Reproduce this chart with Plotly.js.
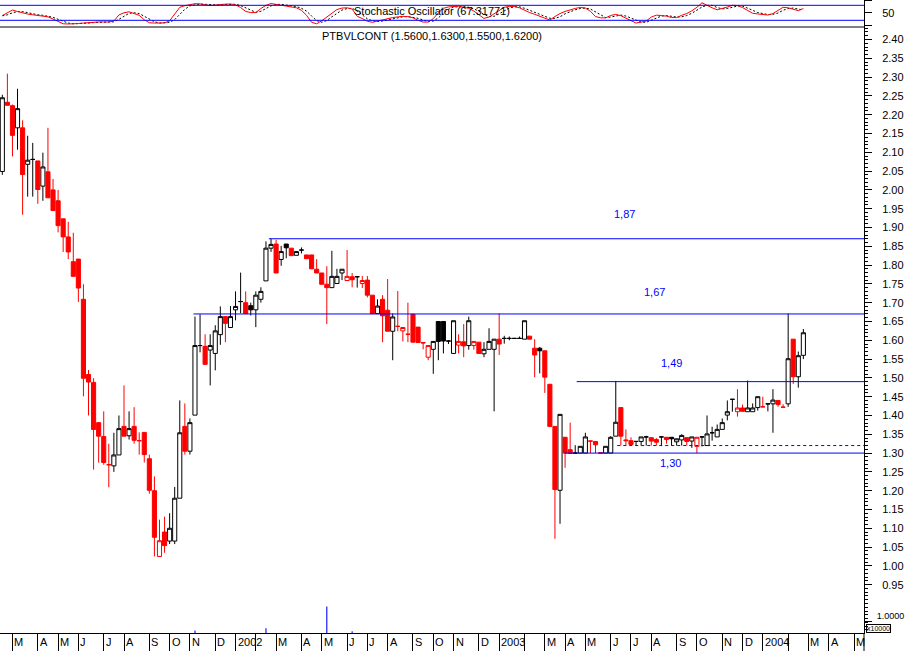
<!DOCTYPE html>
<html><head><meta charset="utf-8">
<script src="https://cdn.plot.ly/plotly-3.0.1.min.js"></script>
<style>html,body{margin:0;padding:0;background:#fff;}#chart{width:910px;height:651px;}</style>
</head><body><div id="chart"></div>
<script>
// weekly bar dates (Fridays)
const weeks = [
'2001-02-16','2001-02-23','2001-03-02','2001-03-09','2001-03-16','2001-03-23','2001-03-30','2001-04-06','2001-04-13','2001-04-20',
'2001-04-27','2001-05-04','2001-05-11','2001-05-18','2001-05-25','2001-06-01','2001-06-08','2001-06-15','2001-06-22','2001-06-29',
'2001-07-06','2001-07-13','2001-07-20','2001-07-27','2001-08-03','2001-08-10','2001-08-17','2001-08-24','2001-08-31','2001-09-07',
'2001-09-14','2001-09-21','2001-09-28','2001-10-05','2001-10-12','2001-10-19','2001-10-26','2001-11-02','2001-11-09','2001-11-16',
'2001-11-23','2001-11-30','2001-12-07','2001-12-14','2001-12-21','2001-12-28',
'2002-01-04','2002-01-11','2002-01-18','2002-01-25','2002-02-01','2002-02-08','2002-02-15','2002-02-22','2002-03-01','2002-03-08',
'2002-03-15','2002-03-22','2002-03-29','2002-04-05','2002-04-12','2002-04-19','2002-04-26','2002-05-03','2002-05-10','2002-05-17',
'2002-05-24','2002-05-31','2002-06-07','2002-06-14','2002-06-21','2002-06-28','2002-07-05','2002-07-12','2002-07-19','2002-07-26',
'2002-08-02','2002-08-09','2002-08-16','2002-08-23','2002-08-30','2002-09-06','2002-09-13','2002-09-20','2002-09-27','2002-10-04',
'2002-10-11','2002-10-18','2002-10-25','2002-11-01','2002-11-08','2002-11-15','2002-11-22','2002-11-29','2002-12-06','2002-12-13',
'2002-12-20','2002-12-27',
'2003-01-03','2003-01-10','2003-01-17','2003-01-24','2003-01-31','2003-02-07','2003-02-14','2003-02-21','2003-02-28','2003-03-07',
'2003-03-14','2003-03-21','2003-03-28','2003-04-04','2003-04-11','2003-04-18','2003-04-25','2003-05-02','2003-05-09','2003-05-16',
'2003-05-23','2003-05-30','2003-06-06','2003-06-13','2003-06-20','2003-06-27','2003-07-04','2003-07-11','2003-07-18','2003-07-25',
'2003-08-01','2003-08-08','2003-08-15','2003-08-22','2003-08-29','2003-09-05','2003-09-12','2003-09-19','2003-09-26','2003-10-03',
'2003-10-10','2003-10-17','2003-10-24','2003-10-31','2003-11-07','2003-11-14','2003-11-21','2003-11-28','2003-12-05','2003-12-12',
'2003-12-19','2003-12-26',
'2004-01-02','2004-01-09','2004-01-16','2004-01-23','2004-01-30','2004-02-06','2004-02-13','2004-02-20','2004-02-27'];

const openP = [
2.049,2.233,2.224,2.165,2.165,2.068,2.081,2.077,2.010,2.048,
2.000,1.971,1.923,1.875,1.809,1.816,1.709,1.509,1.488,1.381,
1.344,1.269,1.266,1.295,1.371,1.346,1.371,1.333,1.355,1.285,
1.200,1.025,1.090,1.066,1.066,1.180,1.371,1.305,1.401,1.586,
1.584,1.574,1.565,1.615,1.663,1.634,
1.681,1.703,1.700,1.692,1.681,1.709,1.758,1.845,1.856,1.815,
1.856,1.845,1.826,1.840,1.827,1.827,1.789,1.779,1.749,1.740,
1.751,1.779,1.759,1.769,1.769,1.751,1.760,1.720,1.671,1.709,
1.680,1.624,1.637,1.625,1.616,1.669,1.635,1.594,1.555,1.576,
1.650,1.650,1.598,1.565,1.587,1.596,1.586,1.586,1.595,1.564,
1.576,1.576,
1.603,1.605,1.605,1.605,1.605,1.603,1.611,1.579,1.579,1.572,
1.483,1.371,1.201,1.342,1.309,1.300,1.300,1.300,1.332,1.331,
1.301,1.300,1.300,1.345,1.421,1.335,1.333,1.331,1.331,1.343,
1.341,1.336,1.343,1.342,1.342,1.330,1.335,1.341,1.332,1.318,
1.343,1.320,1.354,1.343,1.363,1.401,1.443,1.410,1.420,1.410,
1.410,1.421,
1.423,1.431,1.431,1.440,1.422,1.431,1.603,1.503,1.560];

const highP = [
2.253,2.309,2.227,2.269,2.185,2.144,2.125,2.077,2.099,2.165,
2.029,2.000,1.923,1.915,1.886,1.816,1.749,1.521,1.499,1.381,
1.411,1.325,1.354,1.400,1.480,1.411,1.422,1.355,1.355,1.296,
1.238,1.123,1.131,1.140,1.210,1.440,1.432,1.392,1.663,1.669,
1.616,1.616,1.640,1.690,1.663,1.691,
1.730,1.780,1.730,1.700,1.730,1.741,1.863,1.870,1.867,1.851,
1.856,1.845,1.836,1.847,1.827,1.827,1.816,1.779,1.797,1.838,
1.790,1.789,1.840,1.779,1.769,1.771,1.771,1.720,1.709,1.720,
1.763,1.671,1.731,1.634,1.700,1.669,1.635,1.594,1.586,1.597,
1.650,1.650,1.600,1.652,1.616,1.643,1.663,1.597,1.595,1.595,
1.632,1.603,
1.671,1.612,1.610,1.605,1.610,1.652,1.611,1.603,1.582,1.572,
1.483,1.371,1.403,1.342,1.381,1.321,1.318,1.354,1.332,1.331,
1.302,1.318,1.345,1.492,1.421,1.363,1.342,1.331,1.343,1.346,
1.341,1.340,1.343,1.342,1.342,1.338,1.350,1.341,1.343,1.343,
1.343,1.400,1.370,1.376,1.392,1.440,1.443,1.470,1.429,1.493,
1.432,1.450,
1.450,1.431,1.470,1.440,1.430,1.671,1.603,1.570,1.630];

const lowP = [
2.040,2.225,2.089,2.107,1.934,1.982,1.982,1.963,1.971,1.979,
1.945,1.887,1.835,1.816,1.770,1.702,1.451,1.400,1.256,1.275,
1.269,1.209,1.250,1.295,1.345,1.336,1.325,1.296,1.275,1.192,
1.025,1.025,1.035,1.058,1.058,1.180,1.296,1.296,1.401,1.568,
1.536,1.480,1.520,1.588,1.595,1.634,
1.653,1.672,1.671,1.666,1.635,1.700,1.758,1.835,1.779,1.798,
1.818,1.825,1.826,1.831,1.817,1.790,1.779,1.749,1.643,1.740,
1.751,1.760,1.759,1.741,1.740,1.739,1.714,1.671,1.671,1.595,
1.624,1.547,1.624,1.597,1.595,1.595,1.594,1.576,1.547,1.511,
1.547,1.565,1.590,1.565,1.565,1.555,1.575,1.575,1.565,1.555,
1.576,1.411,
1.561,1.591,1.600,1.605,1.605,1.603,1.603,1.502,1.512,1.460,
1.371,1.072,1.112,1.261,1.299,1.298,1.300,1.300,1.300,1.300,
1.300,1.300,1.300,1.345,1.320,1.320,1.320,1.320,1.320,1.320,
1.320,1.320,1.320,1.325,1.320,1.320,1.320,1.320,1.314,1.300,
1.318,1.320,1.333,1.343,1.363,1.387,1.410,1.397,1.411,1.410,
1.410,1.413,
1.423,1.411,1.354,1.423,1.422,1.423,1.484,1.474,1.550];

const closeP = [
2.245,2.225,2.145,2.216,2.041,2.079,2.081,2.001,2.061,1.979,
1.945,1.905,1.875,1.835,1.770,1.739,1.499,1.489,1.363,1.345,
1.275,1.269,1.295,1.365,1.345,1.365,1.334,1.333,1.296,1.201,
1.076,1.067,1.054,1.100,1.180,1.354,1.305,1.381,1.586,1.586,
1.536,1.586,1.625,1.663,1.645,1.663,
1.690,1.703,1.671,1.681,1.720,1.730,1.845,1.855,1.779,1.836,
1.846,1.825,1.836,1.840,1.817,1.790,1.779,1.749,1.740,1.770,
1.770,1.789,1.770,1.761,1.769,1.759,1.720,1.671,1.691,1.665,
1.624,1.662,1.637,1.634,1.616,1.595,1.594,1.593,1.586,1.597,
1.597,1.598,1.598,1.652,1.597,1.585,1.652,1.597,1.565,1.576,
1.597,1.603,
1.590,1.605,1.605,1.605,1.605,1.652,1.603,1.561,1.572,1.502,
1.371,1.203,1.403,1.300,1.299,1.300,1.318,1.343,1.332,1.322,
1.300,1.318,1.342,1.382,1.345,1.333,1.323,1.331,1.343,1.343,
1.332,1.329,1.343,1.336,1.338,1.338,1.347,1.331,1.343,1.342,
1.343,1.351,1.354,1.363,1.381,1.410,1.443,1.420,1.411,1.420,
1.420,1.450,
1.423,1.431,1.441,1.429,1.422,1.551,1.503,1.559,1.620];

// stochastic oscillator (%K red, %D black dashed), read per bar
const stochK = [
39,50,61,55,48.5,45,42,40,38.5,34,25,14.5,6,5.3,5.3,7,9,11,12.2,13.3,
13.3,13.3,17,41.6,50,54,47,40,22,10.3,9,8,9.5,18,43,72,78.5,82,86.5,85.5,
81.5,79,81,84,84.6,85.2,82,71,55.5,51,51,67,80,87,83.5,81,79,75,70,60,
40,12,6,18,34,50,63,69,70,65,36,27,16,12,17,21.8,27,31,33.5,36,
34.5,30,20,12.8,13,26.5,50,68,73.5,76.5,76.5,72,68,57,44,27.5,33,46,60,72,
75.5,75.5,70,60,51,44,37,27.5,21,35,47,55.5,62,67.5,71.5,69,56,35,30,29.5,
39.5,43.5,38.5,30,18.7,9,11.5,17,33,40.5,39,36.5,31,31,40,47,58,72,90,79.5,
70,62,66.5,73,80,79,71,59.5,48,45.5,43.5,41,47,60,72,70,64,58.5,67.3];
const stochD = [
38,42,50,55,55,50,45,42,40,37,32,24,15,9,6,6,7,9,11,12,
13,13,14,24,36,48,50,47,36,24,14,9,9,12,23,44,64,78,82,85,
84,82,80,81,83,85,84,79,69,59,52,56,66,78,83,84,81,78,75,68,
57,37,19,12,19,34,49,61,67,68,57,43,26,18,15,17,22,27,31,34,
35,33,28,21,15,17,30,48,64,73,75,75,72,66,56,43,35,36,46,59,
69,74,74,68,60,52,44,36,28,28,34,46,55,62,67,69,65,53,40,31,
33,38,41,37,29,19,13,12,20,30,37,39,36,33,34,39,48,59,73,80,
80,71,66,67,73,77,77,70,60,51,46,43,44,49,60,67,69,64,61];

// axis ticks
const monthTicks = ['2001-03-02','2001-04-06','2001-05-04','2001-06-01','2001-07-06','2001-08-03','2001-09-07','2001-10-05','2001-11-02','2001-12-07',
'2002-01-04','2002-02-01','2002-03-01','2002-04-05','2002-05-03','2002-06-07','2002-07-05','2002-08-02','2002-09-06','2002-10-04','2002-11-01','2002-12-06',
'2003-01-03','2003-02-07','2003-03-07','2003-04-04','2003-05-02','2003-06-06','2003-07-04','2003-08-01','2003-09-05','2003-10-03','2003-11-07','2003-12-05',
'2004-01-02','2004-02-06','2004-03-05','2004-04-02','2004-05-07'];
const monthLabels = ['M','A','M','J','J','A','S','O','N','D',
'2002','','M','A','M','J','J','A','S','O','N','D',
'2003','','M','A','M','J','J','A','S','O','N','D',
'2004','','M','A','M'];
const priceTicks = [0.95,1.00,1.05,1.10,1.15,1.20,1.25,1.30,1.35,1.40,1.45,1.50,1.55,1.60,1.65,1.70,1.75,1.80,1.85,1.90,1.95,2.00,2.05,2.10,2.15,2.20,2.25,2.30,2.35,2.40];

// volume (x10000)
const volDates = ['2001-11-09','2002-02-15','2002-05-10','2002-06-14'];
const volValues = [0.2,0.4,2.2,0.15];

// horizontal levels
const levels = [1.87,1.67,1.49,1.30];
const levelLabels = ['1,87','1,67','1,49','1,30'];
const levelStarts = ['2002-02-19','2001-11-07','2003-04-20','2003-04-03'];
const supportDashed = 1.32;
const supportDashedStart = '2003-06-15';

const xStart = '2001-02-12 19:00', xEnd = '2004-05-20 17:00';
const FONT = 'Liberation Sans, Arial, sans-serif';
const RED = '#FF0000', BLACK = '#000000', BLUE = '#0000FF';

// split bars into colour classes (MetaStock style)
const groups = {
  bh:{col:BLACK,fill:'#FFFFFF'}, bf:{col:BLACK,fill:BLACK},
  rh:{col:RED,fill:'#FFFFFF'}, rf:{col:RED,fill:RED}
};
Object.values(groups).forEach(g=>{g.x=[];g.o=[];g.h=[];g.l=[];g.c=[];});
for (let i=0;i<weeks.length;i++){
  const prev = i>0 ? closeP[i-1] : openP[i];
  const colour = closeP[i] >= prev ? 'b' : 'r';
  const fill = closeP[i] < openP[i] ? 'f' : 'h';
  const g = groups[colour+fill];
  g.x.push(weeks[i]); g.o.push(openP[i]); g.h.push(highP[i]); g.l.push(lowP[i]); g.c.push(closeP[i]);
}
const traces = [];
Object.values(groups).forEach(g=>{
  const st = {line:{color:g.col,width:1},fillcolor:g.fill};
  traces.push({type:'candlestick',x:g.x,open:g.o,high:g.h,low:g.l,close:g.c,
    increasing:st,decreasing:st,whiskerwidth:0,xaxis:'x',yaxis:'y',showlegend:false,hoverinfo:'skip'});
});
traces.push({type:'scatter',mode:'lines',x:weeks,y:stochD,xaxis:'x',yaxis:'y2',
  line:{color:BLACK,width:1,dash:'2px,2px'},showlegend:false,hoverinfo:'skip'});
traces.push({type:'scatter',mode:'lines',x:weeks,y:stochK,xaxis:'x',yaxis:'y2',
  line:{color:RED,width:1},showlegend:false,hoverinfo:'skip'});
traces.push({type:'bar',x:volDates,y:volValues,xaxis:'x',yaxis:'y3',
  marker:{color:BLUE},width:1.5*86400000,showlegend:false,hoverinfo:'skip'});

const plotH = 633, topPanel = 27;
const mainTop = (plotH-topPanel)/plotH;

const shapes = [];
levels.forEach((v,i)=>shapes.push({type:'line',xref:'x',yref:'y',x0:levelStarts[i],x1:xEnd,y0:v,y1:v,line:{color:BLUE,width:1}}));
shapes.push({type:'line',xref:'x',yref:'y',x0:supportDashedStart,x1:xEnd,y0:supportDashed,y1:supportDashed,line:{color:BLUE,width:1,dash:'3px,3px'}});
[80,20].forEach(v=>shapes.push({type:'line',xref:'paper',yref:'y2',x0:0,x1:1,y0:v,y1:v,line:{color:BLUE,width:1}}));
shapes.push({type:'line',xref:'paper',yref:'paper',x0:0,x1:1,y0:mainTop,y1:mainTop,line:{color:BLACK,width:1}});
shapes.push({type:'line',xref:'paper',yref:'paper',x0:1,x1:1,y0:-18/plotH,y1:0,line:{color:BLACK,width:1}});

const annotations = [
  {xref:'paper',yref:'paper',x:0.5,y:(plotH-36)/plotH,text:'PTBVLCONT (1.5600,1.6300,1.5500,1.6200)',showarrow:false,font:{family:FONT,size:11,color:BLACK},xanchor:'center',yanchor:'middle'},
  {xref:'paper',yref:'paper',x:0.5,y:(plotH-10.5)/plotH,text:'Stochastic Oscillator (67.31771)',showarrow:false,font:{family:FONT,size:11,color:BLACK},xanchor:'center',yanchor:'middle'},
  {xref:'x',yref:'y',x:'2003-06-25',y:1.936,text:levelLabels[0],showarrow:false,font:{family:FONT,size:11,color:BLUE}},
  {xref:'x',yref:'y',x:'2003-08-06',y:1.7285,text:levelLabels[1],showarrow:false,font:{family:FONT,size:11,color:BLUE}},
  {xref:'x',yref:'y',x:'2003-08-29',y:1.5396,text:levelLabels[2],showarrow:false,font:{family:FONT,size:11,color:BLUE}},
  {xref:'x',yref:'y',x:'2003-08-27',y:1.2737,text:levelLabels[3],showarrow:false,font:{family:FONT,size:11,color:BLUE}},
  {xref:'paper',yref:'paper',x:1.002,y:0,text:'x10000',showarrow:false,font:{family:FONT,size:7,color:BLACK},xanchor:'left',yanchor:'bottom',bordercolor:BLACK,borderwidth:1,borderpad:0}
];
// month labels: drawn to the right of each tick line, below the time axis
monthTicks.forEach((d,i)=>{
  if (!monthLabels[i]) return;
  annotations.push({xref:'x',yref:'paper',x:d,y:-2/plotH,text:monthLabels[i],showarrow:false,
    xanchor:'left',yanchor:'top',xshift:1,font:{family:FONT,size:11,color:BLACK},borderpad:0});
});

const layout = {
  width:910,height:651,
  margin:{l:0,r:46,t:0,b:18,pad:0},
  paper_bgcolor:'#FFFFFF',plot_bgcolor:'#FFFFFF',
  font:{family:FONT,size:11,color:BLACK},
  showlegend:false,hovermode:false,
  boxgap:0.1,boxgroupgap:0.1,
  xaxis:{type:'date',range:[xStart,xEnd],anchor:'y',
    tickmode:'array',tickvals:monthTicks,showticklabels:false,
    ticks:'outside',ticklen:18,tickwidth:1,tickcolor:BLACK,
    showline:true,linecolor:BLACK,linewidth:1,showgrid:false,zeroline:false,
    rangeslider:{visible:false},fixedrange:true},
  yaxis:{domain:[0,mainTop],range:[0.8215,2.4332],side:'right',anchor:'x',
    tickmode:'array',tickvals:priceTicks,ticktext:priceTicks.map(v=>v.toFixed(2)),
    ticks:'outside',ticklen:7,tickcolor:BLACK,ticklabelstandoff:8,
    minor:{ticks:'outside',ticklen:3,tickcolor:BLACK,tickmode:'linear',tick0:0,dtick:0.01,showgrid:false},
    showline:true,linecolor:BLACK,linewidth:1,showgrid:false,zeroline:false,
    tickfont:{family:FONT,size:11,color:BLACK}},
  yaxis2:{domain:[mainTop,1],range:[-6.8,101.2],side:'right',anchor:'x',
    tickmode:'array',tickvals:[0,50,100],ticktext:['','50',''],
    ticks:'outside',ticklen:7,tickcolor:BLACK,ticklabelstandoff:8,
    showline:true,linecolor:BLACK,linewidth:1,showgrid:false,zeroline:false,
    tickfont:{family:FONT,size:11,color:BLACK}},
  yaxis3:{domain:[0,33/plotH],range:[0,2.75],side:'right',anchor:'x',
    tickmode:'array',tickvals:[1],ticktext:['1.0000'],
    ticks:'outside',ticklen:7,tickcolor:BLACK,ticklabelstandoff:3,ticklabelshift:-5,
    showline:false,showgrid:false,zeroline:false,
    tickfont:{family:FONT,size:9,color:BLACK}},
  shapes:shapes,annotations:annotations
};
Plotly.newPlot('chart',traces,layout,{staticPlot:true,displayModeBar:false});
</script></body></html>
